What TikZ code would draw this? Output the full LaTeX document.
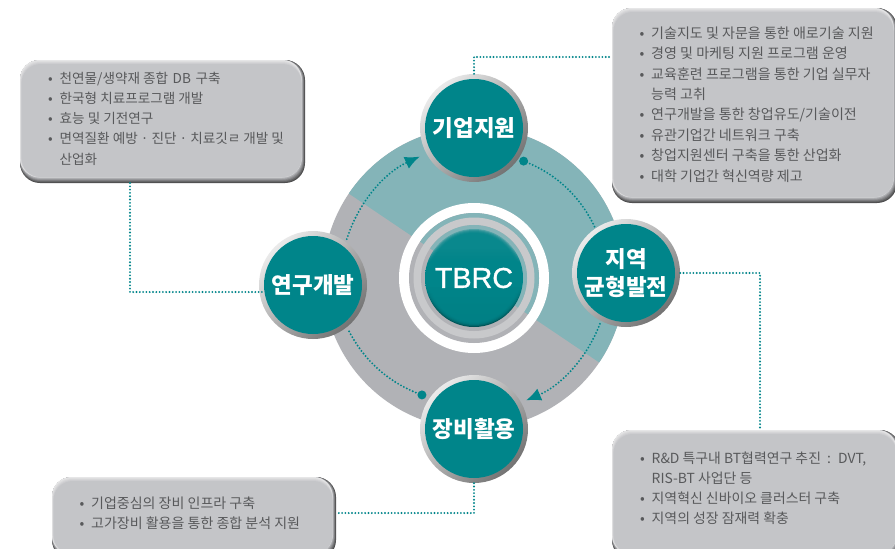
\documentclass[tikz,border=0pt]{standalone}
\usepackage{fontspec}
\setmainfont{Noto Sans CJK KR}
\newfontfamily\latinfont[FakeBold=1]{Liberation Sans}
\usetikzlibrary{arrows.meta}
\definecolor{tealc}{HTML}{00858A}
\definecolor{teallight}{HTML}{84B4B8}
\definecolor{graydisc}{HTML}{B1B2B6}
\definecolor{ringgray}{HTML}{C8C9CB}
\definecolor{boxbase}{HTML}{C4C5C8}
\definecolor{boxdark}{HTML}{4F4F50}
\definecolor{boxlight}{HTML}{E6E6E7}
\definecolor{boxtext}{HTML}{58595B}
\pgfdeclareverticalshading{ballshade}{100bp}{color(0bp)=(black!55!tealc); color(36bp)=(black!30!tealc); color(46bp)=(tealc); color(58bp)=(tealc); color(66bp)=(teallight); color(100bp)=(teallight)}
\newcommand{\bevelbox}[4]{%
  \foreach \i/\p in {0/0,1/18,2/38,3/58,4/78,5/100}
    \fill[boxbase!\p!boxdark, rounded corners=20pt] (#1,#2) rectangle (#3-0.6*\i,#4-\i);
  \foreach \j/\p in {0/100,1/75,2/50,3/25,4/0}
    \fill[boxlight!\p!boxbase, rounded corners=19pt] (#1+0.4*\j,#2+\j) rectangle (#3-3.5,#4-6);
}
\newcommand{\bl}{\makebox[11.5pt][l]{•}}
\newcommand{\ct}{\makebox[11.5pt][l]{}}
\tikzset{
  boxtxt/.style={anchor=west,inner sep=0pt,align=left,text=boxtext},
  hubring/.style={circle,inner sep=0pt,minimum size=108pt,left color=white!92!black,right color=black!55,shading angle=45},
  hub/.style={circle,inner sep=0pt,minimum size=98pt,fill=tealc,text=white,align=center,font=\fontsize{22.5}{28}\selectfont\bfseries},
  link/.style={tealc,line width=2.1pt,line cap=round,dash pattern=on 0pt off 3.3pt},
  cyc/.style={link,looseness=0.9},
  head/.style={-{Latex[length=15pt,width=13pt]}},
  startdot/.style={circle,fill=tealc,inner sep=0pt,minimum size=9pt},
}
\begin{document}
\begin{tikzpicture}[x=1pt,y=-1pt]
\path[use as bounding box,clip] (0,0) rectangle (895,549);
\fill[white] (0,0) rectangle (895,549);
\coordinate (hubc) at (474,278);

% big disc
\fill[graydisc] (hubc) circle[radius=151pt];
\fill[teallight] (hubc) -- +(146:151pt) arc[start angle=146,end angle=-34,radius=151pt] -- cycle;

% boxes
\bevelbox{20}{60}{305}{183}
\bevelbox{612}{8}{897}{203}
\bevelbox{612}{430}{900}{560}
\bevelbox{52}{477}{336}{560}

% free ends of the connectors
\coordinate (lbox) at (130,183);
\coordinate (ljoin) at (262,292);
\coordinate (trbox) at (612,57);
\coordinate (brbox) at (760,430);
\coordinate (blbox) at (336,513);
\coordinate (a1) at ([shift={(163:133pt)}]hubc);
\coordinate (a2) at ([shift={(114:133pt)}]hubc);
\coordinate (b1) at ([shift={(67:127pt)}]hubc);
\coordinate (b2) at ([shift={(23:131pt)}]hubc);
\coordinate (c1) at ([shift={(-20:134pt)}]hubc);
\coordinate (c2) at ([shift={(-67:133pt)}]hubc);
\coordinate (d1) at ([shift={(-114:128pt)}]hubc);
\coordinate (d2) at ([shift={(-158:136pt)}]hubc);

% cycle arcs
\draw[cyc,head] (a1) to[bend left=24] (a2);
\draw[cyc] (b1) to[bend left=22] (b2);
\draw[cyc,head] (c1) to[bend left=23] (c2);
\draw[cyc] (d1) to[bend left=22] (d2);
\node[startdot] (dotb) at (b1) {};
\node[startdot] (dotd) at (d1) {};

% centre
\fill[white] (hubc) circle[radius=75pt];
\fill[graydisc] (hubc) circle[radius=65pt];
\fill[teallight] (hubc) -- +(146:65pt) arc[start angle=146,end angle=-34,radius=65pt] -- cycle;
\fill[ringgray] (hubc) circle[radius=60.5pt];
\fill[graydisc] (hubc) circle[radius=53pt];
\fill[teallight] (hubc) -- +(146:53pt) arc[start angle=146,end angle=-34,radius=53pt] -- cycle;
\shade[shading=ballshade] (hubc) circle[radius=49pt];
\foreach \r in {48.5,47.5,46.5,45.5,44.5}
  \fill[tealc,opacity=0.4] ([yshift=0.5pt]hubc) circle[radius=\r pt];
\node[inner sep=0pt,text=white,font=\latinfont\fontsize{28.7}{30}\selectfont] (tbrc) at (hubc) {TBRC};

% hub nodes
\node[hubring] (topring) at (474,128) {};
\node[hubring] (rightring) at (626,273) {};
\node[hubring] (bottomring) at (474,429) {};
\node[hubring] (leftring) at (313,285) {};

% connectors
\draw[link] (topring.north) |- (trbox);
\draw[link] (lbox) |- (ljoin);
\draw[link] (rightring.east) -| (brbox);
\draw[link] (bottomring.south) |- (blbox);

\node[hub] (top) at (topring) {기업지원};
\node[hub] (right) at (rightring) {지역\\균형발전};
\node[hub] (bottom) at (bottomring) {장비활용};
\node[hub] (left) at (leftring) {연구개발};

% texts
\node[boxtxt,font=\fontsize{13.6}{20.3}\selectfont] (ltext) at (48,118.5) {\bl 천연물/생약재 종합 \hspace{1.5pt}DB\hspace{1.5pt} 구축\\\bl 한국형 치료프로그램 개발\\\bl 효능 및 기전연구\\\bl 면역질환 예방 · 진단 · 치료깃ㄹ 개발 및\\\ct 산업화};
\node[boxtxt,font=\fontsize{14.05}{20.4}\selectfont] (trtext) at (639.5,104.5) {\bl 기술지도 및 자문을 통한 애로기술 지원\\\bl 경영 및 마케팅 지원 프로그램 운영\\\bl 교육훈련 프로그램을 통한 기업 실무자\\\ct 능력 고취\\\bl 연구개발을 통한 창업유도/기술이전\\\bl 유관기업간 네트워크 구축\\\bl 창업지원센터 구축을 통한 산업화\\\bl 대학 기업간 혁신역량 제고};
\node[boxtxt,font=\fontsize{13.9}{20}\selectfont] (brtext) at (640,488) {\bl R\&D 특구내 BT협력연구 추진 \hspace{3pt}:\hspace{3pt} DVT,\\\ct RIS-BT 사업단 등\\\bl 지역혁신 신바이오 클러스터 구축\\\bl 지역의 성장 잠재력 확충};
\node[boxtxt,font=\fontsize{14}{20}\selectfont] (bltext) at (79.5,513) {\bl 기업중심의 장비 인프라 구축\\\bl 고가장비 활용을 통한 종합 분석 지원};
\end{tikzpicture}
\end{document}
